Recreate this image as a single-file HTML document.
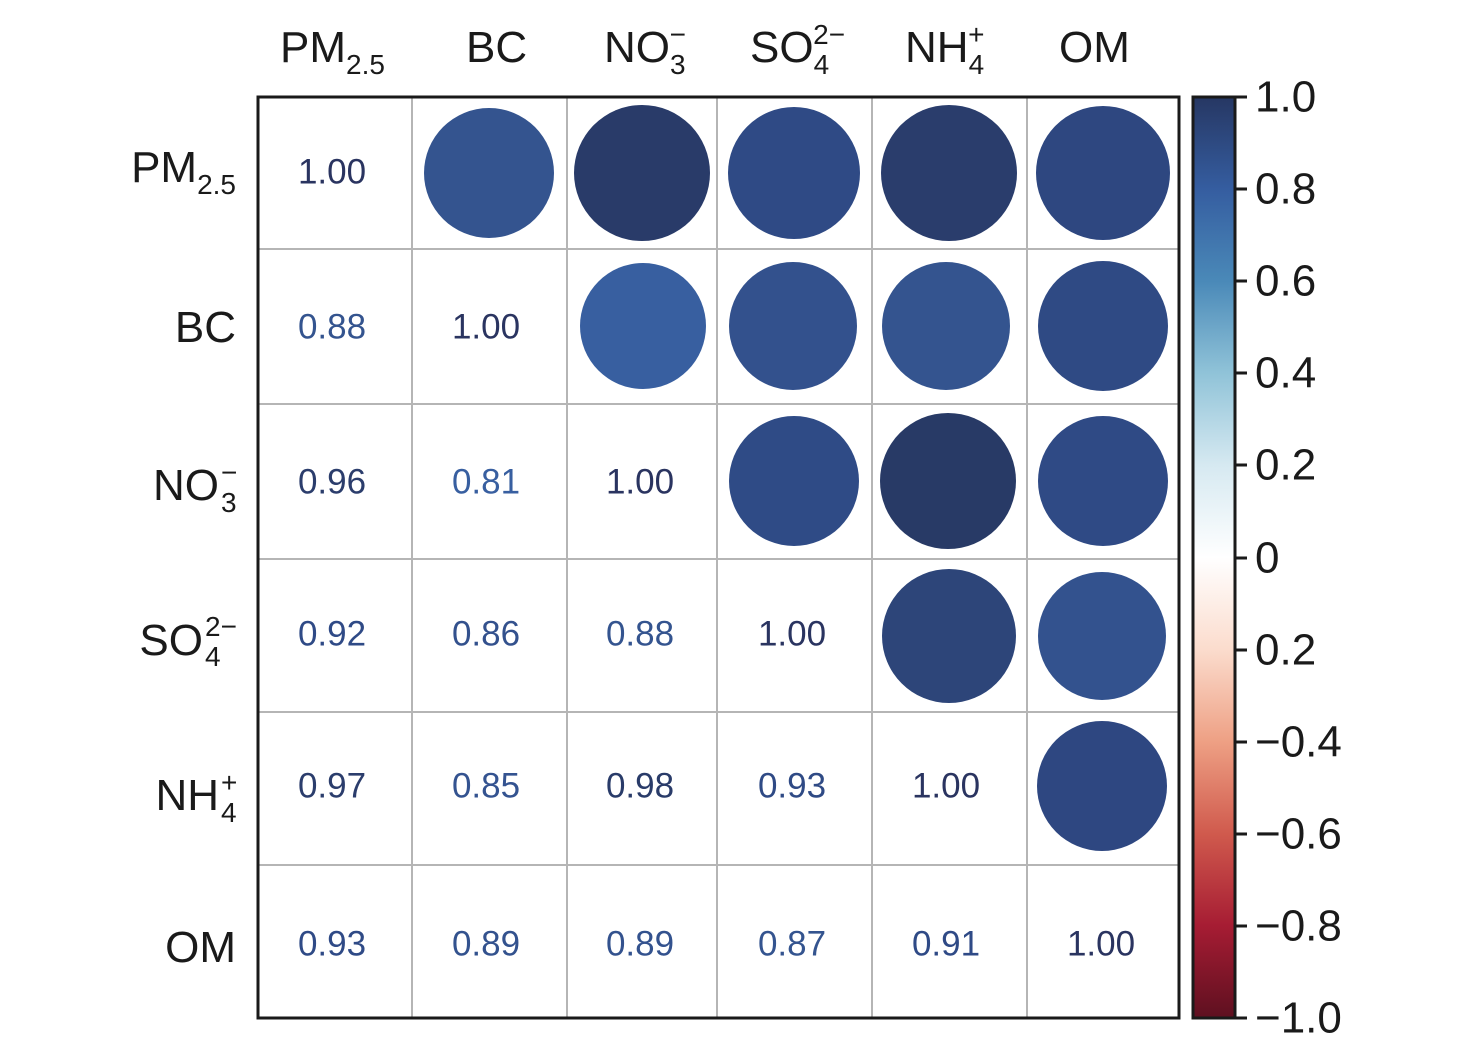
<!DOCTYPE html>
<html><head><style>body{margin:0;background:#fff}svg{display:block}text{font-family:"Liberation Sans",sans-serif}</style></head><body>
<svg width="1476" height="1054" viewBox="0 0 1476 1054">
<defs><linearGradient id="cb" x1="0" y1="0" x2="0" y2="1">
<stop offset="0" stop-color="#263763"/><stop offset="0.1" stop-color="#355da0"/><stop offset="0.2" stop-color="#4a89b8"/><stop offset="0.3" stop-color="#90c3d8"/><stop offset="0.4" stop-color="#d6e9f1"/><stop offset="0.5" stop-color="#ffffff"/><stop offset="0.6" stop-color="#fbdccd"/><stop offset="0.7" stop-color="#eea084"/><stop offset="0.8" stop-color="#d05a4d"/><stop offset="0.9" stop-color="#a61c33"/><stop offset="1" stop-color="#5e1020"/></linearGradient></defs>
<g stroke="#b5b5b5" stroke-width="2">
<line x1="412" y1="97" x2="412" y2="1018"/><line x1="567" y1="97" x2="567" y2="1018"/><line x1="717" y1="97" x2="717" y2="1018"/><line x1="872" y1="97" x2="872" y2="1018"/><line x1="1027" y1="97" x2="1027" y2="1018"/>
<line x1="258" y1="249" x2="1179" y2="249"/><line x1="258" y1="404" x2="1179" y2="404"/><line x1="258" y1="559" x2="1179" y2="559"/><line x1="258" y1="712" x2="1179" y2="712"/><line x1="258" y1="865" x2="1179" y2="865"/>
</g>
<rect x="258" y="97" width="921" height="921" fill="none" stroke="#1a1a1a" stroke-width="3"/>
<g>
<circle cx="489" cy="173" r="65" fill="#34548f"/><circle cx="642" cy="173" r="68" fill="#293b69"/><circle cx="794" cy="173" r="66" fill="#2f4a85"/><circle cx="949" cy="173" r="68" fill="#2a3d6c"/><circle cx="1103" cy="173" r="67" fill="#2e4780"/>
<circle cx="643" cy="326" r="63" fill="#385fa0"/><circle cx="793" cy="326" r="64" fill="#33518d"/><circle cx="946" cy="326" r="64" fill="#34548f"/><circle cx="1103" cy="326" r="65" fill="#2f4a84"/>
<circle cx="794" cy="481" r="65" fill="#2f4b86"/><circle cx="948" cy="481" r="68" fill="#283a66"/><circle cx="1103" cy="481" r="65" fill="#2f4a85"/>
<circle cx="949" cy="636" r="67" fill="#2d4579"/><circle cx="1102" cy="636" r="64" fill="#33528e"/>
<circle cx="1102" cy="786" r="65" fill="#2e4781"/>
</g>
<g font-size="35" text-anchor="middle" dominant-baseline="middle">
<text x="332" y="174" fill="#2a3460">1.00</text>
<text x="332" y="329" fill="#34548f">0.88</text><text x="486" y="329" fill="#2a3460">1.00</text>
<text x="332" y="484" fill="#2b3d6c">0.96</text><text x="486" y="484" fill="#385fa0">0.81</text><text x="640" y="484" fill="#2a3460">1.00</text>
<text x="332" y="636" fill="#2f4a86">0.92</text><text x="486" y="636" fill="#33518d">0.86</text><text x="640" y="636" fill="#34548f">0.88</text><text x="792" y="636" fill="#2a3460">1.00</text>
<text x="332" y="788" fill="#2b3d6c">0.97</text><text x="486" y="788" fill="#345390">0.85</text><text x="640" y="788" fill="#293b69">0.98</text><text x="792" y="788" fill="#2f4a85">0.93</text><text x="946" y="788" fill="#2a3460">1.00</text>
<text x="332" y="946" fill="#2f4a86">0.93</text><text x="486" y="946" fill="#33528e">0.89</text><text x="640" y="946" fill="#33528e">0.89</text><text x="792" y="946" fill="#34548f">0.87</text><text x="946" y="946" fill="#2f4a86">0.91</text><text x="1101" y="946" fill="#2a3460">1.00</text>
</g>
<g font-size="44" fill="#1a1a1a">
<text x="280" y="62">PM<tspan font-size="28" dy="12">2.5</tspan></text>
<text x="466" y="62">BC</text>
<text x="604" y="62">NO<tspan font-size="28" dy="12">3</tspan><tspan font-size="28" dx="-16" dy="-30">−</tspan></text>
<text x="750" y="62">SO<tspan font-size="28" dy="12">4</tspan><tspan font-size="28" dx="-16" dy="-30">2−</tspan></text>
<text x="905" y="62">NH<tspan font-size="28" dy="12">4</tspan><tspan font-size="28" dx="-16" dy="-30">+</tspan></text>
<text x="1059" y="62">OM</text>
</g>
<g font-size="44" fill="#1a1a1a">
<text x="236" y="182" text-anchor="end">PM<tspan font-size="28" dy="12">2.5</tspan></text>
<text x="236" y="342" text-anchor="end">BC</text>
<text x="219" y="500" text-anchor="end">NO</text><text x="221" y="512" font-size="28">3</text><text x="221" y="482" font-size="28">−</text>
<text x="203" y="655" text-anchor="end">SO</text><text x="205" y="666" font-size="28">4</text><text x="205" y="636" font-size="28">2−</text>
<text x="219" y="810" text-anchor="end">NH</text><text x="221" y="822" font-size="28">4</text><text x="221" y="792" font-size="28">+</text>
<text x="236" y="962" text-anchor="end">OM</text>
</g>
<rect x="1193" y="97" width="42" height="921" fill="url(#cb)" stroke="#1a1a1a" stroke-width="3"/>
<g stroke="#1a1a1a" stroke-width="3">
<line x1="1235" y1="97" x2="1247" y2="97"/><line x1="1235" y1="189" x2="1247" y2="189"/><line x1="1235" y1="281" x2="1247" y2="281"/><line x1="1235" y1="373" x2="1247" y2="373"/><line x1="1235" y1="465" x2="1247" y2="465"/><line x1="1235" y1="558" x2="1247" y2="558"/><line x1="1235" y1="650" x2="1247" y2="650"/><line x1="1235" y1="742" x2="1247" y2="742"/><line x1="1235" y1="834" x2="1247" y2="834"/><line x1="1235" y1="926" x2="1247" y2="926"/><line x1="1235" y1="1018" x2="1247" y2="1018"/>
</g>
<g font-size="44" fill="#1a1a1a" dominant-baseline="middle">
<text x="1255" y="100">1.0</text><text x="1255" y="192">0.8</text><text x="1255" y="284">0.6</text><text x="1255" y="376">0.4</text><text x="1255" y="468">0.2</text><text x="1255" y="561">0</text><text x="1255" y="653">0.2</text><text x="1255" y="745">−0.4</text><text x="1255" y="837">−0.6</text><text x="1255" y="929">−0.8</text><text x="1255" y="1021">−1.0</text>
</g>
</svg>
</body></html>
